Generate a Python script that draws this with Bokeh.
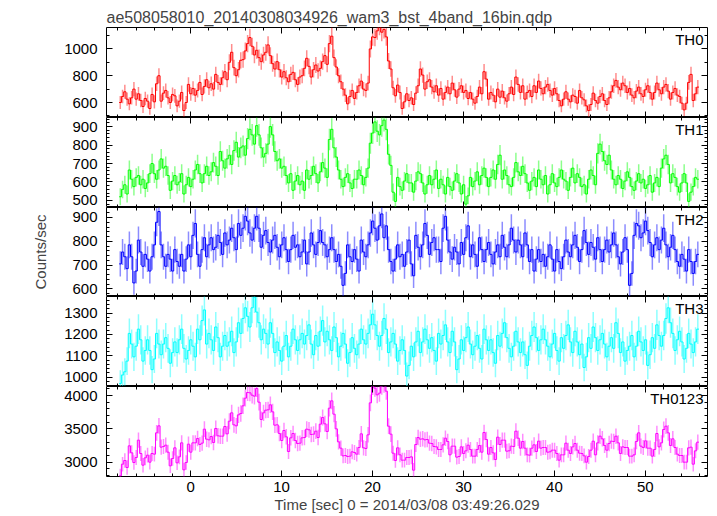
import numpy as np
from bokeh.plotting import figure
from bokeh.layouts import column
from bokeh.models import Range1d, LinearAxis, SingleIntervalTicker, Label, ColumnDataSource
from bokeh.embed import file_html
from bokeh.resources import INLINE

TITLE = "ae508058010_20140308034926_wam3_bst_4band_16bin.qdp"
X_LABEL = "Time [sec] 0 = 2014/03/08 03:49:26.029"
Y_LABEL = "Counts/sec"

BIN = 0.25          # seconds per bin (16 x 1/64 s)
T_START = -7.735    # centre of first bin

th0 = [600, 645, 680, 625, 590, 635, 700, 625, 665, 615, 570, 630, 610, 555, 660, 605,
       740, 800, 610, 670, 690, 635, 600, 660, 650, 575, 610, 675, 540, 600, 735, 665,
       705, 655, 690, 750, 660, 720, 770, 710, 740, 700, 810, 750, 735, 785, 830, 770,
       900, 975, 860, 800, 845, 915, 920, 985, 1040, 1085, 1020, 955, 990, 935, 905, 955,
       975, 1030, 950, 890, 850, 905, 845, 790, 830, 785, 755, 810, 825, 770, 735, 790,
       800, 855, 930, 870, 790, 845, 880, 835, 855, 905, 950, 885, 1040, 1095, 935, 865,
       800, 755, 700, 655, 590, 645, 690, 630, 675, 725, 760, 700, 690, 745, 1000, 1090,
       1085, 1135, 1170, 1125, 1145, 1090, 910, 850, 710, 650, 730, 675, 555, 605, 665, 615,
       635, 585, 670, 725, 850, 805, 700, 755, 770, 715, 680, 725, 655, 705, 625, 675,
       715, 665, 745, 695, 640, 700, 725, 675, 690, 630, 675, 625, 595, 645, 715, 665,
       830, 775, 625, 675, 655, 605, 700, 640, 685, 635, 610, 665, 715, 660, 790, 735,
       675, 725, 625, 675, 690, 645, 725, 675, 760, 705, 665, 715, 735, 690, 655, 705,
       665, 615, 575, 625, 680, 625, 605, 655, 645, 595, 690, 635, 620, 575, 540, 585,
       670, 615, 595, 645, 665, 615, 585, 635, 680, 725, 765, 715, 695, 745, 725, 675,
       705, 655, 635, 685, 715, 665, 645, 695, 725, 675, 625, 675, 745, 695, 665, 715,
       735, 685, 625, 675, 705, 655, 645, 595, 545, 595, 750, 810, 615, 665, 715]

th1 = [520, 560, 585, 535, 665, 615, 575, 625, 635, 585, 615, 565, 595, 645, 700, 645,
       615, 665, 725, 675, 685, 635, 555, 605, 635, 585, 600, 645, 535, 585, 625, 575,
       615, 665, 695, 645, 595, 645, 685, 635, 655, 705, 685, 635, 765, 715, 675, 725,
       745, 695, 770, 815, 735, 785, 795, 745, 835, 885, 855, 805, 905, 855, 785, 735,
       755, 805, 900, 855, 765, 715, 725, 675, 685, 635, 595, 645, 555, 605, 635, 585,
       605, 555, 665, 615, 635, 685, 645, 595, 655, 705, 675, 625, 830, 885, 785, 735,
       665, 615, 575, 625, 645, 595, 565, 615, 615, 665, 635, 585, 625, 675, 810, 865,
       925, 875, 855, 905, 935, 885, 750, 690, 545, 495, 625, 575, 555, 605, 645, 595,
       595, 545, 605, 655, 645, 595, 535, 585, 635, 585, 615, 665, 565, 615, 585, 535,
       625, 575, 555, 605, 645, 595, 535, 585, 480, 525, 625, 575, 605, 655, 585, 635,
       675, 625, 575, 625, 665, 615, 695, 745, 615, 665, 635, 585, 575, 625, 705, 655,
       635, 685, 645, 595, 555, 605, 625, 575, 665, 615, 585, 635, 535, 585, 645, 595,
       575, 625, 665, 615, 605, 555, 625, 675, 595, 645, 625, 575, 585, 535, 615, 665,
       635, 585, 755, 805, 765, 715, 695, 745, 665, 615, 585, 635, 615, 565, 605, 655,
       625, 575, 555, 605, 645, 595, 615, 565, 585, 635, 545, 595, 625, 575, 675, 725,
       745, 695, 595, 645, 625, 575, 545, 595, 645, 595, 495, 545, 575, 625, 615]

th2 = [705, 755, 735, 685, 785, 735, 625, 675, 805, 755, 695, 745, 725, 675, 735, 785,
       880, 925, 785, 735, 695, 745, 725, 675, 765, 715, 695, 745, 675, 725, 785, 735,
       825, 875, 745, 695, 765, 815, 735, 785, 815, 765, 775, 825, 795, 745, 835, 785,
       805, 855, 815, 765, 875, 825, 855, 905, 885, 835, 805, 855, 905, 855, 775, 825,
       845, 795, 755, 805, 825, 775, 735, 785, 815, 765, 715, 765, 825, 775, 785, 735,
       755, 805, 705, 755, 835, 785, 745, 795, 845, 795, 785, 735, 765, 815, 765, 715,
       745, 695, 615, 665, 785, 735, 715, 765, 725, 675, 805, 755, 735, 785, 835, 885,
       855, 805, 865, 915, 815, 865, 765, 715, 675, 725, 785, 735, 745, 695, 755, 805,
       705, 655, 825, 775, 735, 785, 875, 825, 745, 795, 815, 765, 765, 715, 855, 905,
       805, 755, 725, 775, 755, 705, 795, 745, 815, 865, 735, 785, 745, 695, 815, 765,
       715, 765, 795, 745, 705, 755, 785, 735, 825, 775, 735, 785, 855, 805, 755, 805,
       785, 735, 835, 785, 715, 765, 675, 725, 765, 715, 745, 695, 735, 785, 725, 675,
       765, 715, 685, 735, 805, 755, 735, 785, 825, 775, 715, 765, 845, 795, 745, 795,
       775, 725, 815, 765, 715, 765, 805, 755, 785, 835, 785, 735, 705, 755, 815, 765,
       615, 665, 825, 875, 865, 815, 835, 885, 845, 795, 735, 785, 815, 765, 805, 855,
       785, 735, 775, 825, 765, 715, 695, 745, 725, 675, 765, 715, 665, 715, 745]

th3 = [970, 1010, 1025, 1075, 1205, 1155, 1095, 1145, 1225, 1175, 1075, 1125, 1175, 1125, 1035, 1085,
       1205, 1155, 1105, 1155, 1185, 1135, 1065, 1115, 1165, 1115, 1175, 1225, 1135, 1085, 1125, 1175,
       1145, 1095, 1225, 1175, 1265, 1315, 1155, 1205, 1175, 1125, 1235, 1185, 1095, 1145, 1195, 1145,
       1165, 1215, 1115, 1165, 1255, 1205, 1275, 1325, 1285, 1235, 1325, 1375, 1305, 1255, 1175, 1225,
       1205, 1155, 1255, 1205, 1115, 1165, 1125, 1075, 1145, 1195, 1095, 1145, 1225, 1175, 1125, 1175,
       1205, 1155, 1195, 1245, 1155, 1105, 1195, 1145, 1215, 1265, 1165, 1215, 1175, 1125, 1235, 1185,
       1095, 1145, 1205, 1155, 1065, 1115, 1185, 1135, 1105, 1155, 1225, 1175, 1155, 1205, 1245, 1295,
       1245, 1195, 1145, 1195, 1275, 1225, 1115, 1165, 1205, 1155, 1075, 1125, 1175, 1125, 1005, 1055,
       1145, 1095, 1165, 1215, 1115, 1165, 1225, 1175, 1135, 1185, 1125, 1075, 1205, 1155, 1195, 1245,
       1165, 1115, 1215, 1165, 1035, 1085, 1175, 1125, 1185, 1235, 1155, 1105, 1145, 1195, 1135, 1085,
       1225, 1175, 1125, 1175, 1115, 1065, 1195, 1145, 1205, 1255, 1185, 1135, 1095, 1145, 1215, 1165,
       1115, 1165, 1105, 1055, 1145, 1195, 1235, 1185, 1125, 1175, 1225, 1175, 1145, 1095, 1155, 1205,
       1125, 1075, 1185, 1135, 1195, 1245, 1165, 1115, 1215, 1165, 1105, 1155, 1045, 1095, 1185, 1135,
       1235, 1185, 1125, 1175, 1205, 1155, 1095, 1145, 1185, 1135, 1255, 1205, 1115, 1165, 1075, 1125,
       1145, 1195, 1095, 1145, 1215, 1165, 1125, 1175, 1055, 1105, 1185, 1135, 1245, 1195, 1145, 1195,
       1275, 1325, 1255, 1205, 1125, 1175, 1215, 1165, 1085, 1135, 1205, 1155, 1115, 1165, 1225]

n_bins = min(len(th0), len(th1), len(th2), len(th3))
bands = [np.array(s[:n_bins], dtype=float) for s in (th0, th1, th2, th3)]
# TH0123 is the sum of the four bands
th0123 = bands[0] + bands[1] + bands[2] + bands[3]

names = ["TH0", "TH1", "TH2", "TH3", "TH0123"]
series = bands + [th0123]
colors = ["#ff0000", "#00ff00", "#0000ff", "#00ffff", "#ff00ff"]
y_ranges = [(488, 1160), (462, 949), (568, 942), (956, 1378), (2785, 4135)]
y_major = [200, 100, 100, 100, 500]
y_minor = [2, 5, 5, 5, 5]
frame_heights = [90, 90, 89, 90, 90]

X_RANGE = (-9.25, 56.83)
FONT = "Liberation Sans"

time = T_START + BIN * np.arange(n_bins)


def style_axis(ax, show_labels):
    ax.major_tick_in = 6
    ax.major_tick_out = 0
    ax.minor_tick_in = 3
    ax.minor_tick_out = 0
    ax.axis_line_color = None
    ax.major_tick_line_color = "black"
    ax.minor_tick_line_color = "black"
    if show_labels:
        ax.major_label_text_font = FONT
        ax.major_label_text_font_size = "15px"
        ax.major_label_text_color = "black"
    else:
        ax.major_label_text_font_size = "1px"
        ax.major_label_text_color = None
        ax.major_label_text_alpha = 0
        ax.major_label_standoff = 0


figs = []
n = len(names)
for k in range(n):
    lo, hi = y_ranges[k]
    first = k == 0
    last = k == n - 1
    p = figure(frame_width=601, frame_height=frame_heights[k],
               x_range=Range1d(*X_RANGE), y_range=Range1d(lo, hi),
               output_backend="svg", toolbar_location=None,
               x_axis_location=None, y_axis_location=None,
               min_border_left=106, min_border_right=3,
               min_border_top=27 if first else 0, min_border_bottom=0,
               title=TITLE if first else None)
    p.grid.visible = False
    p.outline_line_color = "black"
    p.outline_line_width = 1
    p.background_fill_color = "white"
    p.border_fill_color = "white"

    if first:
        p.title.text_font = FONT
        p.title.text_font_size = "16px"
        p.title.text_font_style = "normal"
        p.title.standoff = 4
        p.title.offset = 0

    xt = SingleIntervalTicker(interval=10, num_minor_ticks=5)
    yt = SingleIntervalTicker(interval=y_major[k], num_minor_ticks=y_minor[k])

    left = LinearAxis(ticker=yt)
    style_axis(left, True)
    left.major_label_standoff = 9
    if k == 2:
        left.axis_label = Y_LABEL
        left.axis_label_text_font = FONT
        left.axis_label_text_font_size = "15px"
        left.axis_label_text_font_style = "normal"
        left.axis_label_standoff = 20
    p.add_layout(left, "left")

    right = LinearAxis(ticker=SingleIntervalTicker(interval=y_major[k], num_minor_ticks=y_minor[k]))
    style_axis(right, False)
    p.add_layout(right, "right")

    top = LinearAxis(ticker=SingleIntervalTicker(interval=10, num_minor_ticks=5))
    style_axis(top, False)
    p.add_layout(top, "above")

    bottom = LinearAxis(ticker=xt)
    style_axis(bottom, last)
    if last:
        bottom.major_label_standoff = 5
        bottom.axis_label = X_LABEL
        bottom.axis_label_text_font = FONT
        bottom.axis_label_text_font_size = "15px"
        bottom.axis_label_text_font_style = "normal"
        bottom.axis_label_standoff = 1
    p.add_layout(bottom, "below")

    vals = series[k]
    err = np.sqrt(vals * BIN) / BIN
    src = ColumnDataSource(dict(t=time, y=vals, lo=vals - err, hi=vals + err))
    p.segment(x0="t", y0="lo", x1="t", y1="hi", source=src,
              line_color=colors[k], line_alpha=0.45, line_width=1.5)
    edges = np.append(time - BIN / 2, time[-1] + BIN / 2)
    steps = np.append(vals, vals[-1])
    p.step(x=edges, y=steps, mode="after", line_color=colors[k], line_width=1.0)

    lab = Label(x=X_RANGE[1], y=hi, text=names[k], text_align="right",
                text_baseline="top", x_offset=-4, y_offset=-3,
                text_font=FONT, text_font_size="15px", text_color="black")
    p.add_layout(lab)
    figs.append(p)

layout = column(*figs, spacing=0)
open("out.html", "w").write(file_html(layout, INLINE))
